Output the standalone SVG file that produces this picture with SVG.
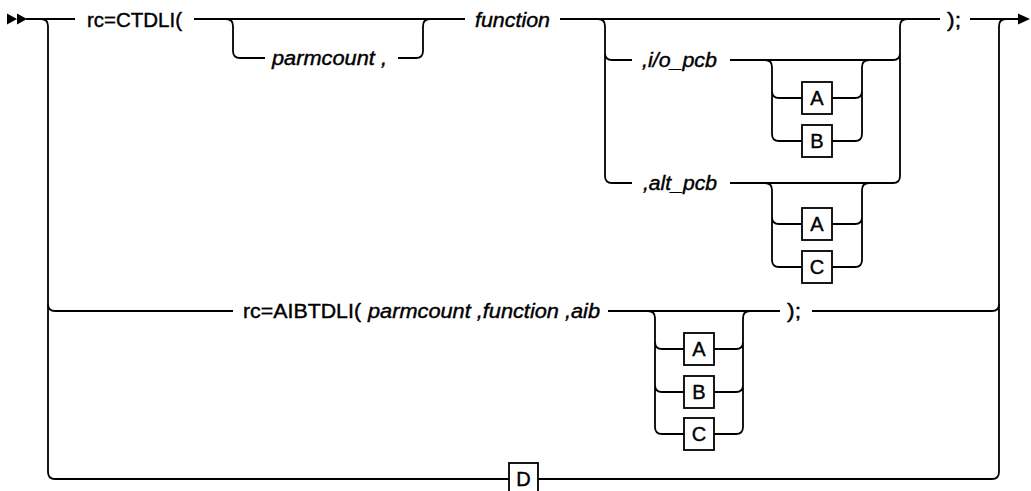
<svg xmlns="http://www.w3.org/2000/svg" width="1031" height="491" viewBox="0 0 1031 491">
<style>
.ln{fill:none;stroke:#000;stroke-width:1.8}
.bx{fill:#fff;stroke:#000;stroke-width:1.8}
.t{font-family:"Liberation Sans",Arial,sans-serif;font-size:20px;fill:#000;stroke:#000;stroke-width:0.4}
.i{font-style:italic}
.c{text-anchor:middle}
.ah{fill:#000}
</style>
<rect width="1031" height="491" fill="#fff"/>
<g id="connectors">
<path class="ln" d="M26,19 H75 M194,19 H465 M560,19 H940 M970,19 H1020"/>
<path class="ln" d="M41,19 Q48,19 48,26 V472 Q48,479 55,479 H509 M538,479 H992 Q999,479 999,472 V26 Q999,19 1006,19"/>
<path class="ln" d="M48,304 Q48,311 55,311 H233 M608,311 H780 M812,311 H992 Q999,311 999,304"/>
<path class="ln" d="M226,19 Q233,19 233,26 V51 Q233,58 240,58 H265 M398,58 H416 Q423,58 423,51 V26 Q423,19 430,19"/>
<path class="ln" d="M598,19 Q605,19 605,26 V176 Q605,183 612,183 H632 M605,53 Q605,60 612,60 H632"/>
<path class="ln" d="M730,60 H893 Q900,60 900,53 M730,183 H893 Q900,183 900,176 V26 Q900,19 907,19"/>
<path class="ln" d="M765,60 Q772,60 772,67 V134 Q772,141 779,141 H802 M772,91 Q772,98 779,98 H802 M832,98 H855 Q862,98 862,91 M832,141 H855 Q862,141 862,134 V67 Q862,60 869,60"/>
<path class="ln" d="M765,183 Q772,183 772,190 V260 Q772,267 779,267 H802 M772,217 Q772,224 779,224 H802 M832,224 H855 Q862,224 862,217 M832,267 H855 Q862,267 862,260 V190 Q862,183 869,183"/>
<path class="ln" d="M648,311 Q655,311 655,318 V427 Q655,434 662,434 H684 M655,342 Q655,349 662,349 H684 M655,385 Q655,392 662,392 H684 M714,349 H736 Q743,349 743,342 M714,392 H736 Q743,392 743,385 M714,434 H736 Q743,434 743,427 V318 Q743,311 750,311"/>
<path class="ah" d="M7,13.5 L17,19 L7,24.5 Z M17,13.5 L27,19 L17,24.5 Z M1018,13.5 L1030,19 L1018,24.5 Z"/>
</g>
<g id="n-ctdli"><text class="t" x="87" y="27" textLength="95" lengthAdjust="spacingAndGlyphs">rc=CTDLI(</text></g>
<g id="n-parmcount"><text class="t i" x="272" y="65" textLength="115" lengthAdjust="spacingAndGlyphs">parmcount ,</text></g>
<g id="n-function"><text class="t i" x="475" y="27" textLength="75" lengthAdjust="spacingAndGlyphs">function</text></g>
<g id="n-end1"><text class="t" x="947" y="27" textLength="14" lengthAdjust="spacingAndGlyphs">);</text></g>
<g id="n-iopcb"><text class="t i" x="642" y="67" textLength="75" lengthAdjust="spacingAndGlyphs">,i/o_pcb</text></g>
<g id="n-altpcb"><text class="t i" x="643" y="190" textLength="74" lengthAdjust="spacingAndGlyphs">,alt_pcb</text></g>
<g id="n-io-a"><rect class="bx" x="802" y="82" width="30" height="32"/><text class="t c" x="817" y="105">A</text></g>
<g id="n-io-b"><rect class="bx" x="802" y="125" width="30" height="32"/><text class="t c" x="817" y="148">B</text></g>
<g id="n-alt-a"><rect class="bx" x="802" y="208" width="30" height="32"/><text class="t c" x="817" y="231">A</text></g>
<g id="n-alt-c"><rect class="bx" x="802" y="251" width="30" height="32"/><text class="t c" x="817" y="274">C</text></g>
<g id="n-aibtdli"><text class="t" x="243" y="318" textLength="118" lengthAdjust="spacingAndGlyphs">rc=AIBTDLI(</text><text class="t i" x="368" y="318" textLength="232" lengthAdjust="spacingAndGlyphs">parmcount ,function ,aib</text></g>
<g id="n-end2"><text class="t" x="787" y="318" textLength="14" lengthAdjust="spacingAndGlyphs">);</text></g>
<g id="n-aib-a"><rect class="bx" x="684" y="333" width="30" height="32"/><text class="t c" x="699" y="356">A</text></g>
<g id="n-aib-b"><rect class="bx" x="684" y="376" width="30" height="32"/><text class="t c" x="699" y="399">B</text></g>
<g id="n-aib-c"><rect class="bx" x="684" y="418" width="30" height="32"/><text class="t c" x="699" y="441">C</text></g>
<g id="n-d"><rect class="bx" x="509" y="463" width="29" height="32"/><text class="t c" x="523.5" y="486">D</text></g>
</svg>
